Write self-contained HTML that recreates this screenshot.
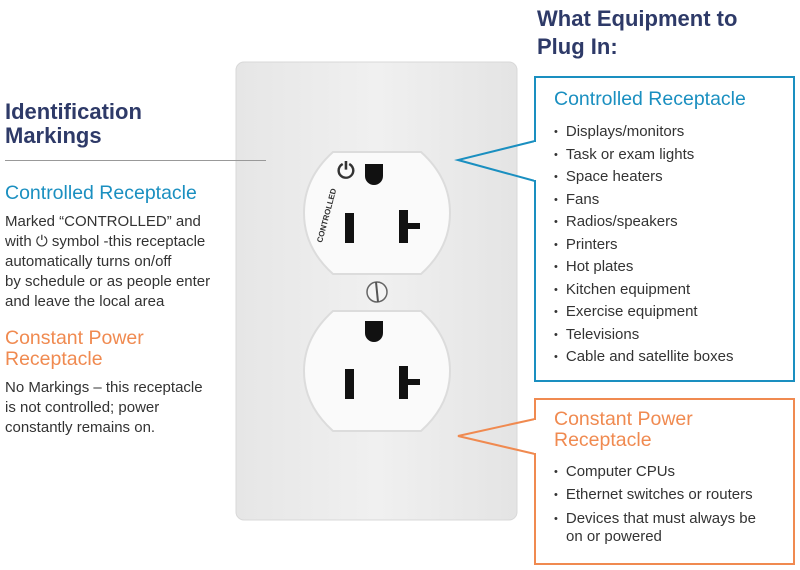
<!DOCTYPE html>
<html><head><style>
body{margin:0;width:800px;height:570px;background:#fff;position:relative;overflow:hidden;font-family:"Liberation Sans",sans-serif}
.a{position:absolute}
.h{color:#2e3a68;font-weight:bold;font-size:22px;line-height:24px}
.b{color:#1a8fc0;font-size:19.5px}
.o{color:#f08a50;font-size:19.5px;line-height:21px}
.t{color:#333;font-size:15px;line-height:20px}
ul{margin:0;padding:0;list-style:none}
li{color:#333;font-size:15px;line-height:22.5px}
li:before{content:"•";margin-right:8px;font-size:11px;vertical-align:1px}
</style></head><body>
<div class="a h" style="left:537px;top:5px;line-height:28px">What Equipment to<br>Plug In:</div>
<div class="a h" style="left:5px;top:100px">Identification<br>Markings</div>
<div class="a b" style="left:5px;top:182px">Controlled Receptacle</div>
<div class="a t" style="left:5px;top:212px">Marked “CONTROLLED” and<br>with ⏻ symbol -this receptacle<br>automatically turns on/off<br>by schedule or as people enter<br>and leave the local area</div>
<div class="a o" style="left:5px;top:328px">Constant Power<br>Receptacle</div>
<div class="a t" style="left:5px;top:378px">No Markings – this receptacle<br>is not controlled; power<br>constantly remains on.</div>

<svg class="a" style="left:0;top:0" width="800" height="570">
<defs><linearGradient id="g" x1="0" x2="1"><stop offset="0" stop-color="#e6e6e6"/><stop offset="0.5" stop-color="#f0f0f0"/><stop offset="1" stop-color="#e4e4e4"/></linearGradient></defs>
<rect x="236" y="62" width="281" height="458" rx="8" fill="url(#g)" stroke="#d8d8d8"/>
<line x1="5" y1="160.5" x2="266" y2="160.5" stroke="#999"/>
<path d="M333 152 H421 Q450 178 450 213 Q450 248 421 274 H333 Q304 248 304 213 Q304 178 333 152Z" fill="#fafafa" stroke="#dcdcdc" stroke-width="2"/>
<path d="M333 311 H421 Q450 337 450 371 Q450 405 421 431 H333 Q304 405 304 371 Q304 337 333 311Z" fill="#fafafa" stroke="#dcdcdc" stroke-width="2"/>
<path d="M365 164 h18 v12 a9 9 0 0 1 -18 0z" fill="#111"/>
<path d="M365 321 h18 v12 a9 9 0 0 1 -18 0z" fill="#111"/>
<rect x="345" y="213" width="9" height="30" fill="#111"/>
<rect x="399" y="210" width="9" height="33" fill="#111"/>
<rect x="399" y="223" width="21" height="6" fill="#111"/>
<rect x="345" y="369" width="9" height="30" fill="#111"/>
<rect x="399" y="366" width="9" height="33" fill="#111"/>
<rect x="399" y="379" width="21" height="6" fill="#111"/>
<circle cx="377" cy="292" r="10" fill="#f4f4f4" stroke="#666" stroke-width="1.5"/>
<line x1="376" y1="282" x2="378" y2="302" stroke="#555" stroke-width="2"/>
<text x="346" y="178" font-size="22" font-weight="bold" fill="#333" text-anchor="middle" font-family="DejaVu Sans">⏻</text>
<text transform="translate(322,243) rotate(-75)" font-size="8" font-weight="bold" fill="#333" font-family="Liberation Sans">CONTROLLED</text>
<path d="M535 141 L458 160 L535 181" fill="none" stroke="#1a8fc0" stroke-width="2"/>
<rect x="535" y="77" width="259" height="304" fill="none" stroke="#1a8fc0" stroke-width="2"/>
<path d="M535 419 L458 436 L535 454" fill="none" stroke="#f08a50" stroke-width="2"/>
<rect x="535" y="399" width="259" height="165" fill="none" stroke="#f08a50" stroke-width="2"/>
<rect x="534" y="142" width="3" height="38" fill="#fff"/>
<rect x="534" y="420" width="3" height="33" fill="#fff"/>
</svg>
<div class="a b" style="left:554px;top:88px">Controlled Receptacle</div>
<ul class="a" style="left:554px;top:121px">
<li>Displays/monitors</li><li>Task or exam lights</li><li>Space heaters</li><li>Fans</li><li>Radios/speakers</li><li>Printers</li><li>Hot plates</li><li>Kitchen equipment</li><li>Exercise equipment</li><li>Televisions</li><li>Cable and satellite boxes</li></ul>
<div class="a o" style="left:554px;top:409px">Constant Power<br>Receptacle</div>
<ul class="a" style="left:554px;top:461px;width:230px">
<li>Computer CPUs</li><li>Ethernet switches or routers</li><li style="line-height:18px;margin-top:4px;padding-left:12px;text-indent:-12px">Devices that must always be<br>on or powered</li></ul>
</body></html>
